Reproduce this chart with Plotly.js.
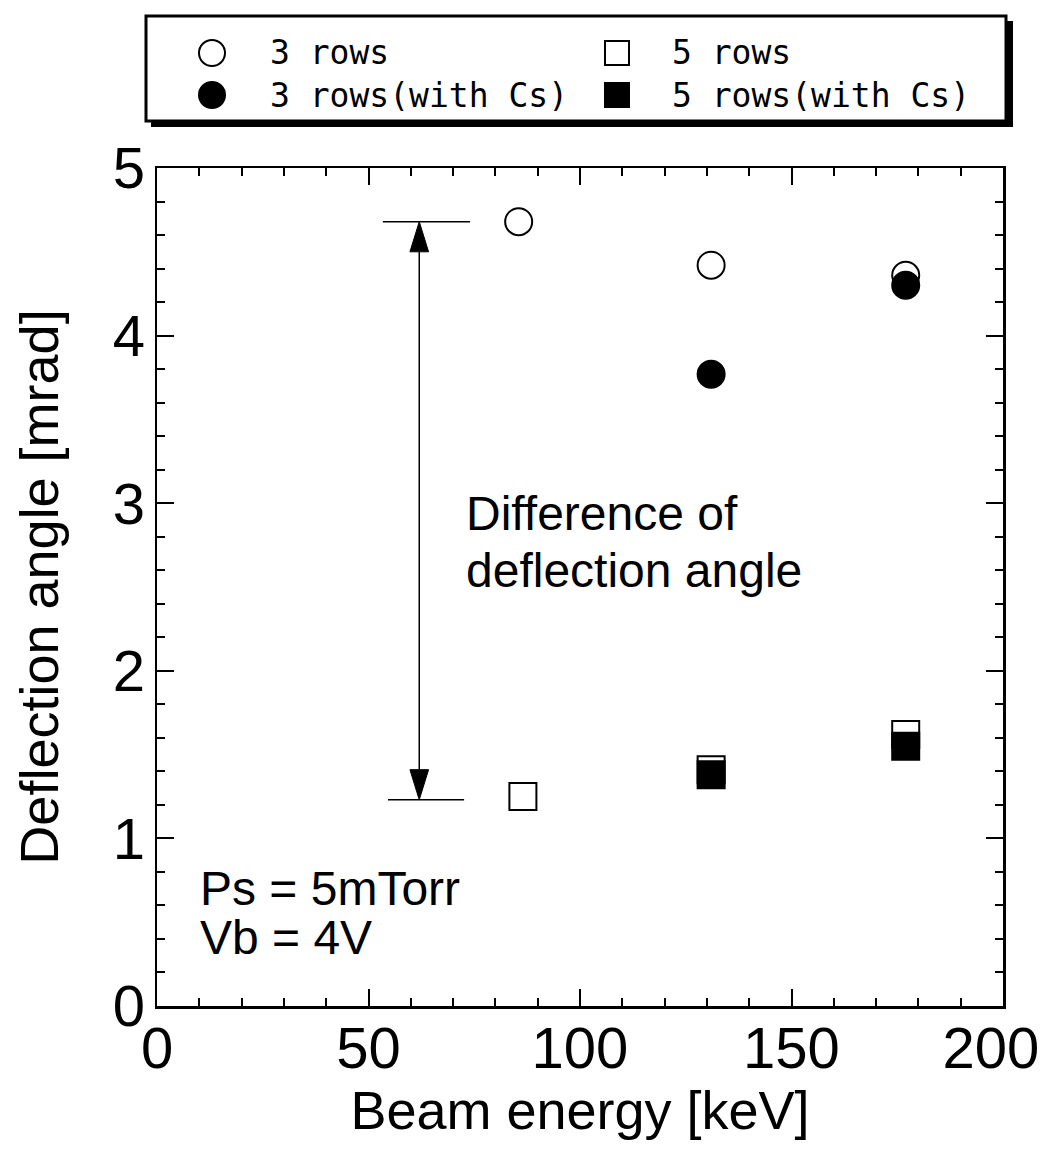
<!DOCTYPE html>
<html>
<head>
<meta charset="utf-8">
<script src="https://cdn.plot.ly/plotly-3.0.1.min.js"></script>
<style>html,body{margin:0;padding:0;background:#fff;}#chart{width:1046px;height:1149px;}</style>
</head>
<body>
<div id="chart"></div>
<script>
// ---- data ----
const seriesNames = ["3 rows", "5 rows", "3 rows(with Cs)", "5 rows(with Cs)"];
const rows3_x = [85.5, 131, 177];
const rows3_y = [4.68, 4.42, 4.36];
const rows5_x = [86.5, 131, 177];
const rows5_y = [1.25, 1.41, 1.62];
const rows3Cs_x = [131, 177];
const rows3Cs_y = [3.77, 4.30];
const rows5Cs_x = [131, 177];
const rows5Cs_y = [1.38, 1.55];
const xTickVals = [0, 50, 100, 150, 200];
const yTickVals = [0, 1, 2, 3, 4, 5];

// ---- layout constants ----
const W = 1046, H = 1149;
const M = {l: 157, r: 43, t: 168, b: 143};
const PW = W - M.l - M.r, PH = H - M.t - M.b;
const px = v => (v - M.l) / PW;
const py = v => (H - M.b - v) / PH;
const FONT = "Liberation Sans, Arial, sans-serif";
const MONO = "DejaVu Sans Mono, monospace";

const openMk = sym => ({symbol: sym, size: 27, color: "#fff", line: {color: "#000", width: 2}});
const fillMk = sym => ({symbol: sym, size: 27, color: "#000", line: {color: "#000", width: 2}});

const traces = [
  {x: rows3_x, y: rows3_y, name: seriesNames[0], mode: "markers", marker: openMk("circle")},
  {x: rows5_x, y: rows5_y, name: seriesNames[1], mode: "markers", marker: openMk("square")},
  {x: rows3Cs_x, y: rows3Cs_y, name: seriesNames[2], mode: "markers", marker: fillMk("circle")},
  {x: rows5Cs_x, y: rows5Cs_y, name: seriesNames[3], mode: "markers", marker: fillMk("square")}
].map(t => Object.assign(t, {type: "scatter", showlegend: false, cliponaxis: false}));

// arrow annotation geometry (data units)
const arrowX = 62, arrowTop = 4.68, arrowBot = 1.23, headLen = 0.18, headHalf = 2.2;
const capTop = [53.4, 74.0], capBot = [54.6, 72.6];

const shapes = [];
// legend box: shadow + box
shapes.push({type: "rect", xref: "paper", yref: "paper", x0: px(151), x1: px(1013), y0: py(127), y1: py(21),
  fillcolor: "#000", line: {width: 0}, layer: "above"});
shapes.push({type: "rect", xref: "paper", yref: "paper", x0: px(146), x1: px(1006), y0: py(121), y1: py(16),
  fillcolor: "#fff", line: {color: "#000", width: 3}, layer: "above"});
// legend markers
const legItems = [
  {name: seriesNames[0], sym: "circle", fill: "#fff", mx: 212, my: 53, tx: 268},
  {name: seriesNames[2], sym: "circle", fill: "#000", mx: 212, my: 95, tx: 268},
  {name: seriesNames[1], sym: "rect", fill: "#fff", mx: 617, my: 53, tx: 670},
  {name: seriesNames[3], sym: "rect", fill: "#000", mx: 617, my: 95, tx: 670}
];
legItems.forEach(it => {
  const s = it.sym === "circle" ? 26 : 24;
  shapes.push({type: it.sym, xref: "paper", yref: "paper", xsizemode: "pixel", ysizemode: "pixel",
    xanchor: px(it.mx), yanchor: py(it.my), x0: -s/2, x1: s/2, y0: -s/2, y1: s/2,
    fillcolor: it.fill, line: {color: "#000", width: 2}, layer: "above"});
});
// double arrow
shapes.push({type: "line", xref: "x", yref: "y", x0: arrowX, x1: arrowX, y0: arrowBot + headLen, y1: arrowTop - headLen,
  line: {color: "#000", width: 1.5}});
shapes.push({type: "path", xref: "x", yref: "y",
  path: `M ${arrowX},${arrowTop} L ${arrowX - headHalf},${arrowTop - headLen} L ${arrowX + headHalf},${arrowTop - headLen} Z`,
  fillcolor: "#000", line: {color: "#000", width: 1}});
shapes.push({type: "path", xref: "x", yref: "y",
  path: `M ${arrowX},${arrowBot} L ${arrowX - headHalf},${arrowBot + headLen} L ${arrowX + headHalf},${arrowBot + headLen} Z`,
  fillcolor: "#000", line: {color: "#000", width: 1}});
shapes.push({type: "line", xref: "x", yref: "y", x0: capTop[0], x1: capTop[1], y0: arrowTop, y1: arrowTop, line: {color: "#000", width: 1.5}});
shapes.push({type: "line", xref: "x", yref: "y", x0: capBot[0], x1: capBot[1], y0: arrowBot, y1: arrowBot, line: {color: "#000", width: 1.5}});

const annotations = [];
legItems.forEach(it => annotations.push({xref: "paper", yref: "paper", x: px(it.tx), y: py(it.my),
  xanchor: "left", yanchor: "middle", text: it.name, showarrow: false, font: {family: MONO, size: 33, color: "#000"}}));
const txt = (x, y, t) => ({xref: "x", yref: "y", x: x, y: y, xanchor: "left", yanchor: "middle", text: t,
  showarrow: false, font: {family: FONT, size: 48, color: "#000"}});
annotations.push(txt(72.5, 2.94, "Difference of"));
annotations.push(txt(72.5, 2.60, "deflection angle"));
annotations.push(txt(9.6, 0.70, "Ps = 5mTorr"));
annotations.push(txt(9.6, 0.41, "Vb = 4V"));

const axisCommon = {
  showline: true, linecolor: "#000", linewidth: 2.5, mirror: "ticks",
  ticks: "inside", ticklen: 17, tickwidth: 2, tickcolor: "#000",
  showgrid: false, zeroline: false, fixedrange: true,
  tickfont: {family: FONT, size: 58, color: "#000"}
};

const layout = {
  width: W, height: H, margin: M, paper_bgcolor: "#fff", plot_bgcolor: "#fff",
  showlegend: false,
  xaxis: Object.assign({}, axisCommon, {
    range: [0, 200], tickvals: xTickVals, ticktext: xTickVals.map(String),
    minor: {dtick: 10, ticks: "inside", ticklen: 8, tickwidth: 2, tickcolor: "#000", showgrid: false},
    ticklabelstandoff: -10, ticklabeloverflow: "allow",
    title: {text: "Beam energy [keV]", font: {family: FONT, size: 54, color: "#000"}, standoff: 3}
  }),
  yaxis: Object.assign({}, axisCommon, {
    range: [0, 5], tickvals: yTickVals, ticktext: yTickVals.map(String),
    minor: {dtick: 0.2, ticks: "inside", ticklen: 8, tickwidth: 2, tickcolor: "#000", showgrid: false},
    ticklabelstandoff: -2,
    title: {text: "Deflection angle [mrad]", font: {family: FONT, size: 54, color: "#000"}, standoff: 37}
  }),
  shapes: shapes,
  annotations: annotations
};

Plotly.newPlot("chart", traces, layout, {staticPlot: true, displayModeBar: false}).then(gd => {
  // keep the last x tick label inside the page, as in the original figure
  const labels = gd.querySelectorAll(".xtick text");
  if (labels.length) {
    const last = labels[labels.length - 1];
    const r = last.getBoundingClientRect();
    const page = gd.getBoundingClientRect();
    const over = r.right - (page.left + W - 6);
    if (over > 0) last.setAttribute("dx", String(-Math.ceil(over)));
  }
});
</script>
</body>
</html>
